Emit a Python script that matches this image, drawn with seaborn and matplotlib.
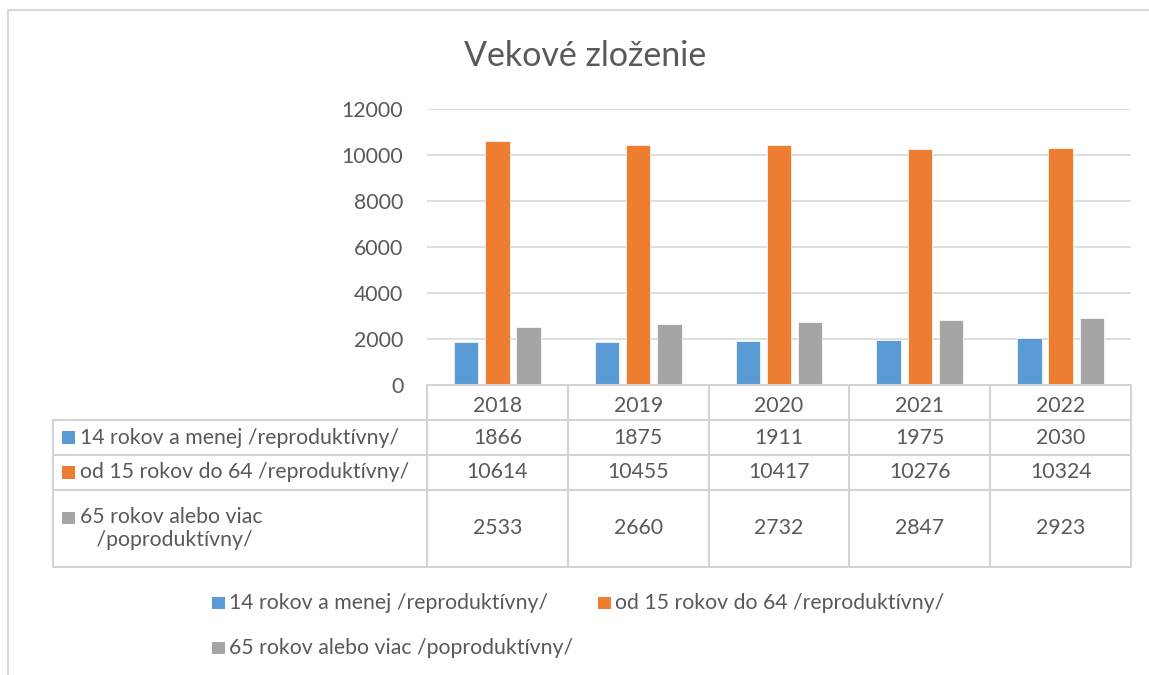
import numpy as np
import pandas as pd
import matplotlib.pyplot as plt
import matplotlib.transforms as mtransforms
from matplotlib.patches import Rectangle
from matplotlib.lines import Line2D
import seaborn as sb

years = ["2018", "2019", "2020", "2021", "2022"]
groups = ["14 rokov a menej /reproduktívny/",
          "od 15 rokov do 64 /reproduktívny/",
          "65 rokov alebo viac /poproduktívny/"]
row_labels = ["14 rokov a menej /reproduktívny/",
              "od 15 rokov do 64 /reproduktívny/",
              "65 rokov alebo viac\n   /poproduktívny/"]
young = [1866, 1875, 1911, 1975, 2030]
working = [10614, 10455, 10417, 10276, 10324]
old = [2533, 2660, 2732, 2847, 2923]
colors = ["#5B9BD5", "#ED7D31", "#A5A5A5"]

df = pd.DataFrame({"year": years * 3,
                   "group": [groups[0]] * 5 + [groups[1]] * 5 + [groups[2]] * 5,
                   "value": young + working + old})

W, H = 1149, 675
txt = "#595959"
grid = "#D9D9D9"
fs = 15.3

sb.set_style("white")
plt.rcParams['font.family'] = ['Lato', 'DejaVu Sans']

fig = plt.figure(figsize=(W / 100, H / 100), dpi=100)

def fx(x):
    return x / W

def fy(y):
    return 1 - y / H

# outer chart border
fig.add_artist(Rectangle((fx(8), fy(690)), fx(1160) - fx(8), fy(10) - fy(690),
                         transform=fig.transFigure, fill=False, ec=grid, lw=1.5))

ax = fig.add_axes([fx(427), fy(385), fx(1131) - fx(427), fy(109) - fy(385)])
sb.barplot(data=df, x="year", y="value", hue="group", palette=colors, saturation=1,
           width=0.665, gap=0.22, ax=ax, legend=False, edgecolor="white", linewidth=0.5)
ax.set_xlim(-0.5, 4.5)
ax.set_ylim(0, 12000)
ax.set_yticks(np.arange(0, 12001, 2000))
ax.yaxis.grid(True, color=grid, lw=1.2)
ax.set_axisbelow(True)
for s in ax.spines.values():
    s.set_visible(False)
ax.set_xlabel("")
ax.set_ylabel("")
ax.tick_params(axis="y", length=0, pad=17, labelsize=fs, labelcolor=txt)
ax.tick_params(axis="x", length=0, pad=8, labelsize=fs, labelcolor=txt)

fig.text(0.509, fy(56), "Vekové zloženie", ha="center", va="center",
         fontsize=24.5, color=txt)

# data table
bt = mtransforms.blended_transform_factory(ax.transData, fig.transFigure)
rows_y = [385, 420, 455, 490, 567]
lc = "#D4D4D4"
for xb in np.arange(-0.5, 5.0, 1.0):
    fig.add_artist(Line2D([xb, xb], [fy(385), fy(567)], transform=bt, color=lc, lw=1.5))
fig.add_artist(Line2D([fx(53), fx(53)], [fy(420), fy(567)], transform=fig.transFigure,
                      color=lc, lw=1.5))
fig.add_artist(Line2D([-0.5, 4.5], [fy(385), fy(385)], transform=bt, color=lc, lw=1.5))
for yy in rows_y[1:]:
    fig.add_artist(Line2D([fx(53), fx(1131)], [fy(yy), fy(yy)], transform=fig.transFigure,
                          color=lc, lw=1.5))

series = [young, working, old]
for r in range(3):
    yc = fy((rows_y[r + 1] + rows_y[r + 2]) / 2)
    my = yc - 0.0095 if r < 2 else fy(518) - 0.0095
    fig.add_artist(Rectangle((fx(62), my), fx(13), 0.019,
                             transform=fig.transFigure, color=colors[r], lw=0))
    if r < 2:
        fig.text(fx(80), yc, row_labels[r], ha="left", va="center", fontsize=fs, color=txt)
    else:
        fig.text(fx(80), yc, row_labels[r], ha="left", va="center", fontsize=fs, color=txt,
                 linespacing=1.2)
    for i, v in enumerate(series[r]):
        fig.text(i, yc, str(v), transform=bt, ha="center", va="center",
                 fontsize=fs, color=txt)

# legend
leg_items = [(212, 603, 0), (598, 603, 1), (212, 648, 2)]
for lx, ly, k in leg_items:
    fig.add_artist(Rectangle((fx(lx), fy(ly) - 0.0095), fx(13), 0.019,
                             transform=fig.transFigure, color=colors[k], lw=0))
    fig.text(fx(lx + 17), fy(ly), groups[k], ha="left", va="center",
             fontsize=fs, color=txt)

fig.savefig("out.png", dpi=100, facecolor="white")
